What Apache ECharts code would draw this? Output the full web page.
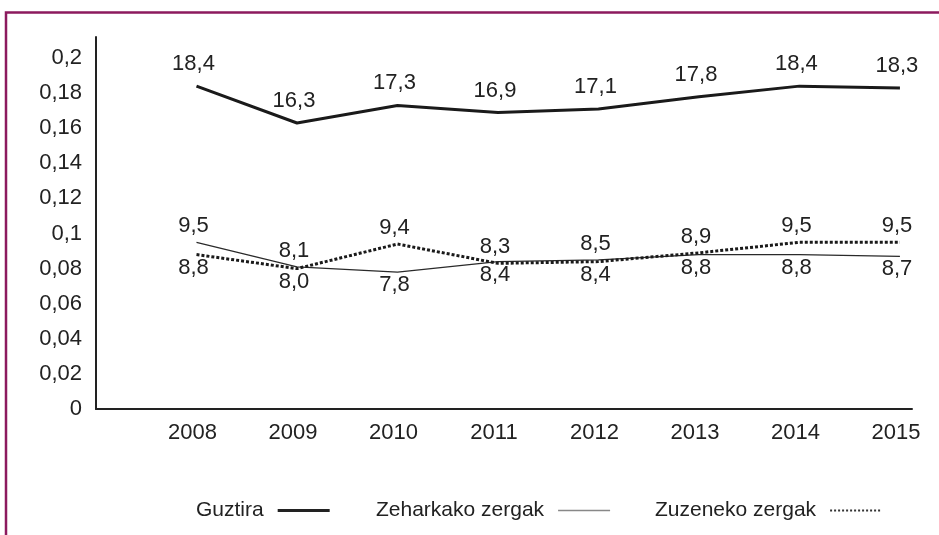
<!DOCTYPE html>
<html>
<head>
  <meta charset="utf-8">
  <title>Guztira / Zeharkako / Zuzeneko zergak</title>
  <script src="https://cdn.jsdelivr.net/npm/echarts@6/dist/echarts.min.js"></script>
  <style>
    html, body { margin: 0; padding: 0; background: #fff; }
    #graph { width: 939px; height: 535px; }
  </style>
</head>
<body>
  <div id="graph"></div>

  <script>
    // datuak (ehunekotan)
    var years = [2008, 2009, 2010, 2011, 2012, 2013, 2014, 2015];
    var guztira = [18.4, 16.3, 17.3, 16.9, 17.1, 17.8, 18.4, 18.3];
    var zeharkako = [9.5, 8.1, 7.8, 8.4, 8.5, 8.8, 8.8, 8.7];
    var zuzeneko = [8.8, 8.0, 9.4, 8.3, 8.4, 8.9, 9.5, 9.5];

    // etiketen kokapena (estiloa, ez datua)
    var zeharkakoSide = ['top', 'top', 'bottom', 'bottom', 'top', 'bottom', 'bottom', 'bottom'];
    var zuzenekoSide = ['bottom', 'bottom', 'top', 'top', 'bottom', 'top', 'top', 'top'];

    var font = 'Liberation Sans, Arial, Helvetica, sans-serif';

    function fmt(v) {
      return v.toFixed(1).replace('.', ',');
    }

    function points(values, sides) {
      return values.map(function (v, i) {
        var item = { value: [years[i], v / 100], pct: v };
        if (sides) {
          item.label = {
            position: sides[i],
            distance: sides[i] === 'top' ? 5 : 2
          };
        }
        return item;
      });
    }

    var labelBase = {
      show: true,
      fontFamily: font,
      fontSize: 22,
      color: '#222',
      offset: [-3, 0],
      formatter: function (p) { return fmt(p.data.pct); }
    };

    // legenda bakoitza bere lekuan
    function legendAt(left, item) {
      return {
        left: left,
        top: 495,
        align: 'right',
        itemWidth: 52,
        itemHeight: 14,
        textStyle: {
          fontFamily: font,
          fontSize: 21,
          color: '#222',
          padding: [0, 9, 0, 0]
        },
        data: [item]
      };
    }

    var myChart = echarts.init(document.getElementById('graph'));

    var option = {
      backgroundColor: '#fff',
      animation: false,
      graphic: [{
        type: 'polyline',
        shape: { points: [[6, 535], [6, 12.5], [939, 12.5]] },
        style: { stroke: '#8c1a5e', lineWidth: 2.5, fill: null }
      }],
      grid: {
        left: 96, right: 27, top: 37, bottom: 126,
        outerBoundsMode: 'none'
      },
      legend: [
        legendAt(191, { name: 'Guztira', itemStyle: { opacity: 0 }, lineStyle: { width: 3, color: '#222' } }),
        legendAt(371, { name: 'Zeharkako zergak', itemStyle: { opacity: 0 }, lineStyle: { width: 1.5, color: '#888' } }),
        legendAt(650, { name: 'Zuzeneko zergak', itemStyle: { opacity: 0 }, lineStyle: { width: 2, color: '#333', type: [2, 2] } })
      ],
      xAxis: {
        type: 'value',
        min: 2007,
        max: 2015.12,
        interval: 1,
        splitLine: { show: false },
        axisTick: { show: false },
        axisLine: { show: true, lineStyle: { color: '#222', width: 2 } },
        axisLabel: {
          margin: 13,
          fontFamily: font,
          fontSize: 22,
          color: '#222',
          padding: [0, 8, 0, 0],
          showMinLabel: true,
          showMaxLabel: true,
          formatter: function (v) {
            return (Math.abs(v - Math.round(v)) < 1e-6 && v >= 2008 && v <= 2015) ? String(Math.round(v)) : '';
          }
        }
      },
      yAxis: {
        type: 'value',
        min: 0,
        max: 0.212,
        interval: 0.02,
        splitLine: { show: false },
        axisTick: { show: false },
        axisLine: { show: true, lineStyle: { color: '#222', width: 2 } },
        axisLabel: {
          margin: 14,
          fontFamily: font,
          fontSize: 22,
          color: '#222',
          formatter: function (v) {
            if (v > 0.2001) return '';
            if (v === 0) return '0';
            return String(+v.toFixed(2)).replace('.', ',');
          }
        }
      },
      series: [
        {
          name: 'Guztira',
          type: 'line',
          symbol: 'circle',
          symbolSize: 0,
          data: points(guztira),
          lineStyle: { color: '#1a1a1a', width: 3 },
          itemStyle: { color: '#1a1a1a' },
          label: Object.assign({}, labelBase, { position: 'top', distance: 11 })
        },
        {
          name: 'Zeharkako zergak',
          type: 'line',
          symbol: 'circle',
          symbolSize: 0,
          data: points(zeharkako, zeharkakoSide),
          lineStyle: { color: '#2a2a2a', width: 1.2 },
          itemStyle: { color: '#2a2a2a' },
          label: labelBase
        },
        {
          name: 'Zuzeneko zergak',
          type: 'line',
          symbol: 'circle',
          symbolSize: 0,
          data: points(zuzeneko, zuzenekoSide),
          lineStyle: { color: '#1a1a1a', width: 3, type: [3, 2] },
          itemStyle: { color: '#1a1a1a' },
          label: labelBase
        }
      ]
    };

    myChart.setOption(option);
  </script>
</body>
</html>
